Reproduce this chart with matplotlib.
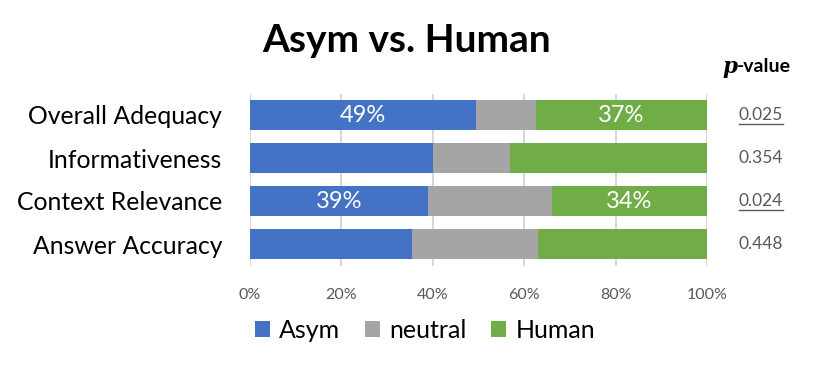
import matplotlib.pyplot as plt
from matplotlib.lines import Line2D
import numpy as np

plt.rcParams['font.family'] = ['Lato', 'DejaVu Sans']

# Data (percent of judgements).
categories = ['Overall Adequacy', 'Informativeness', 'Context Relevance', 'Answer Accuracy']
asym = [49.5, 40, 39, 35.5]
neutral = [13, 17, 27, 27.5]
human = [37.5, 43, 34, 37]
p_values = ['0.025', '0.354', '0.024', '0.448']
significant = [True, False, True, False]
shown_labels = [(49, 37), None, (39, 34), None]

c_asym, c_neutral, c_human = '#4472C4', '#A5A5A5', '#70AD47'

fig = plt.figure(figsize=(8.3, 3.87), dpi=100)
ax = fig.add_axes([250 / 830, 1 - 265.5 / 387, 457 / 830, 172 / 387])

y = np.arange(len(categories))
asym_a = np.array(asym)
neutral_a = np.array(neutral)
human_a = np.array(human)

ax.barh(y, asym_a, height=0.7, color=c_asym, label='Asym', zorder=3)
ax.barh(y, neutral_a, left=asym_a, height=0.7, color=c_neutral, label='neutral', zorder=3)
ax.barh(y, human_a, left=asym_a + neutral_a, height=0.7, color=c_human, label='Human', zorder=3)

# Percent labels inside the first and third rows
for i, lab in enumerate(shown_labels):
    if lab is None:
        continue
    ax.text(asym_a[i] / 2, y[i], f'{lab[0]}%', ha='center', va='center',
            color='white', fontsize=17, zorder=4)
    ax.text(asym_a[i] + neutral_a[i] + human_a[i] / 2, y[i], f'{lab[1]}%',
            ha='center', va='center', color='white', fontsize=17, zorder=4)

ax.set_xlim(0, 100)
ax.set_ylim(len(categories) - 0.5, -0.5)
ax.set_xticks(np.arange(0, 101, 20))
ax.set_xticklabels([f'{v}%' for v in range(0, 101, 20)])
ax.set_yticks(y)
ax.set_yticklabels(categories)
ax.tick_params(axis='x', length=0, labelsize=11.5, labelcolor='#595959', pad=16)
ax.tick_params(axis='y', length=0, labelsize=17.8, pad=20)
ax.grid(axis='x', color='#D0D0D0', linewidth=1.2, zorder=0)
for s in ax.spines.values():
    s.set_visible(False)

# p-value column
px = (761 - 250) / 457 * 100
p_texts = []
for i, (pv, sig) in enumerate(zip(p_values, significant)):
    t = ax.text(px, y[i], pv, ha='center', va='center', fontsize=12.5,
                color='#595959', clip_on=False)
    p_texts.append((t, sig))

hx = (737 - 250) / 457 * 100
hy = -0.5 - (93.5 - 67) / 43
ax.text(hx, hy, 'p', ha='right', va='center', fontsize=15.5, fontweight='bold',
        fontstyle='italic', family='DejaVu Serif', clip_on=False)
ax.text(hx, hy, '-value', ha='left', va='center', fontsize=14,
        fontweight='bold', clip_on=False)

fig.text(407 / 830, 1 - 40 / 387, 'Asym vs. Human', ha='center', va='center',
         fontsize=28, fontweight='bold')

fig.legend(loc='center', bbox_to_anchor=(425 / 830, 1 - 330 / 387), ncol=3,
           frameon=False, fontsize=18, handlelength=0.6, handleheight=0.6,
           handletextpad=0.36, columnspacing=1.0)

# underline the significant p-values
fig.canvas.draw()
r = fig.canvas.get_renderer()
inv = fig.transFigure.inverted()
for t, sig in p_texts:
    if not sig:
        continue
    bb = t.get_window_extent(r)
    (x0, y0), (x1, _) = inv.transform([(bb.x0, bb.y0 - 1), (bb.x1, bb.y0)])
    fig.add_artist(Line2D([x0, x1], [y0, y0], color='#595959', linewidth=1))

fig.savefig('out.png', dpi=100)
